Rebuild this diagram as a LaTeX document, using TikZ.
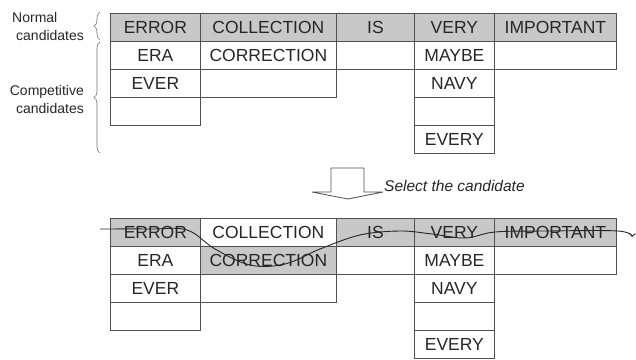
\documentclass[tikz,border=0pt]{standalone}
\usepackage{fontspec}
\setmainfont{Liberation Sans}
\usetikzlibrary{decorations.pathreplacing,arrows.meta}
\definecolor{cellgray}{HTML}{C8C8C8}
\definecolor{rulegray}{HTML}{505050}
\tikzset{
  cell/.style={draw=rulegray, line width=0.8pt, rectangle, inner sep=0pt,
    anchor=north west, minimum height=28pt, text=black!85,
    font=\fontsize{17.5}{18}\selectfont},
  grcell/.style={cell, fill=cellgray},
  note/.style={inner sep=0pt, text=black!85, font=\fontsize{14}{18}\selectfont},
  cbrace/.style={draw=black!55, line width=0.6pt, decorate,
    decoration={brace, amplitude=6pt}}
}
\begin{document}
\begin{tikzpicture}[x=1pt, y=-1pt]
\useasboundingbox (0,0) rectangle (636,359);
% labels on the left
\node[note, anchor=west, align=left] (normal) at (12,26) {Normal\\\hspace*{4pt}candidates};
\node[note, anchor=east, align=right] (compet) at (84,99) {Competitive\\candidates};
\draw[cbrace] (100,40) -- (100,12);
\draw[cbrace] (100,153) -- (100,42);
% table before selection
\node[grcell, minimum width=90pt] (a11) at (110,13) {ERROR};
\node[grcell, minimum width=136pt] (a12) at (200,13) {COLLECTION};
\node[grcell, minimum width=78pt] (a13) at (336,13) {IS};
\node[grcell, minimum width=80pt] (a14) at (414,13) {VERY};
\node[grcell, minimum width=122pt] (a15) at (494,13) {IMPORTANT};
\node[cell, minimum width=90pt] (a21) at (110,41) {ERA};
\node[cell, minimum width=136pt] (a22) at (200,41) {CORRECTION};
\node[cell, minimum width=78pt] (a23) at (336,41) {};
\node[cell, minimum width=80pt] (a24) at (414,41) {MAYBE};
\node[cell, minimum width=122pt] (a25) at (494,41) {};
\node[cell, minimum width=90pt] (a31) at (110,69) {EVER};
\node[cell, minimum width=136pt] (a32) at (200,69) {};
\node[cell, minimum width=80pt] (a34) at (414,69) {NAVY};
\node[cell, minimum width=90pt] (a41) at (110,97) {};
\node[cell, minimum width=80pt] (a44) at (414,97) {};
\node[cell, minimum width=80pt] (a54) at (414,125) {EVERY};
% hollow arrow
\draw[draw=rulegray, line width=0.8pt, fill=white] (331,168) -- (364,168) -- (364,192)
  -- (383,192) -- (348,199) -- (312,192) -- (331,192) -- cycle;
\node[note, anchor=base west, font=\fontsize{15.5}{18}\selectfont\itshape] (select) at (384,191) {Select the candidate};
% table after selection
\node[grcell, minimum width=90pt] (b11) at (110,218) {ERROR};
\node[cell, minimum width=136pt] (b12) at (200,218) {COLLECTION};
\node[grcell, minimum width=78pt] (b13) at (336,218) {IS};
\node[grcell, minimum width=80pt] (b14) at (414,218) {VERY};
\node[grcell, minimum width=122pt] (b15) at (494,218) {IMPORTANT};
\node[cell, minimum width=90pt] (b21) at (110,246) {ERA};
\node[grcell, minimum width=136pt] (b22) at (200,246) {CORRECTION};
\node[cell, minimum width=78pt] (b23) at (336,246) {};
\node[cell, minimum width=80pt] (b24) at (414,246) {MAYBE};
\node[cell, minimum width=122pt] (b25) at (494,246) {};
\node[cell, minimum width=90pt] (b31) at (110,274) {EVER};
\node[cell, minimum width=136pt] (b32) at (200,274) {};
\node[cell, minimum width=80pt] (b34) at (414,274) {NAVY};
\node[cell, minimum width=90pt] (b41) at (110,302) {};
\node[cell, minimum width=80pt] (b44) at (414,302) {};
\node[cell, minimum width=80pt] (b54) at (414,330) {EVERY};
% path through the chosen words
\draw[black!85, line width=0.9pt, -{Straight Barb[length=3pt,width=6pt]}]
  plot[smooth, tension=0.6] coordinates {(100,229) (150,229) (187,230) (215,249)
  (250,265) (285,264) (320,249) (360,235) (400,231) (432,234) (465,238) (495,232)
  (545,231) (618,231) (632,237)};
\end{tikzpicture}
\end{document}
